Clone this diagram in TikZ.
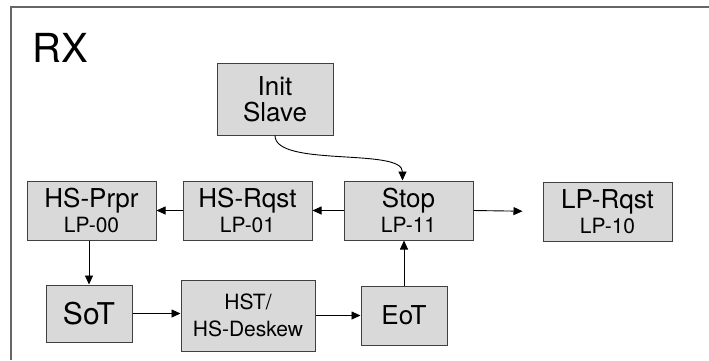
\documentclass[tikz,border=0pt]{standalone}
\usepackage{fontspec}
\setmainfont{TeX Gyre Heros}
\usetikzlibrary{arrows.meta}
\begin{document}
\begin{tikzpicture}[x=1pt,y=-1pt,
  statebox/.style={draw=black!75, fill=gray!30, line width=1pt, inner sep=0pt, align=center,
    font=\fontsize{26}{25}\selectfont},
  conn/.style={line width=0.9pt, -{Triangle[length=9pt,width=8pt]}},
  frameline/.style={draw=black!60, line width=1.4pt}]
\useasboundingbox (0,0) rectangle (709,360);
\coordinate (ftl) at (11,7);
\coordinate (ftr) at (709,7);
\coordinate (fbl) at (11,360);
\draw[frameline] (ftr) -- (ftl) -- (fbl);
\node[anchor=base west, inner sep=0pt, font=\fontsize{40}{40}\selectfont] (rx) at (32,62) {RX};

\node[statebox, minimum width=116, minimum height=72, font=\fontsize{26}{26}\selectfont] (init) at (275,99) {Init\\Slave};
\node[statebox, minimum width=129, minimum height=59] (hsprpr) at (91.5,210.5) {HS-Prpr\\\fontsize{21}{25}\selectfont LP-00};
\node[statebox, minimum width=129, minimum height=59] (hsrqst) at (247.5,210.5) {HS-Rqst\\\fontsize{21}{25}\selectfont LP-01};
\node[statebox, minimum width=129, minimum height=59] (stop) at (408.5,210.5) {Stop\\\fontsize{21}{25}\selectfont LP-11};
\node[statebox, minimum width=129, minimum height=59] (lprqst) at (607.5,211.5) {LP-Rqst\\\fontsize{21}{25}\selectfont LP-10};
\node[statebox, minimum width=86, minimum height=57, font=\fontsize{30}{30}\selectfont] (sot) at (89,313.5) {SoT};
\node[statebox, minimum width=134, minimum height=71, font=\fontsize{21}{27}\selectfont] (hst) at (248,315.5) {HST/\\HS-Deskew};
\node[statebox, minimum width=86, minimum height=59, font=\fontsize{26}{26}\selectfont] (eot) at (404,315.5) {EoT};

\coordinate (stopin) at ([xshift=-6pt]stop.north);
\draw[conn] (init.south) .. controls +(0,32) and +(0,-33) .. (stopin);
\draw[conn] (hsrqst.west) -- (hsprpr.east);
\draw[conn] (stop.west) -- (hsrqst.east);
\draw[conn, shorten >=20pt] (stop.east) -- (lprqst.west);
\draw[conn] (hsprpr.south -| sot.north) -- (sot.north);
\draw[conn] (sot.east) -- (sot.east -| hst.west);
\draw[conn] (hst.east) -- (eot.west);
\draw[conn] (eot.north) -- (eot.north |- stop.south);
\end{tikzpicture}
\end{document}
